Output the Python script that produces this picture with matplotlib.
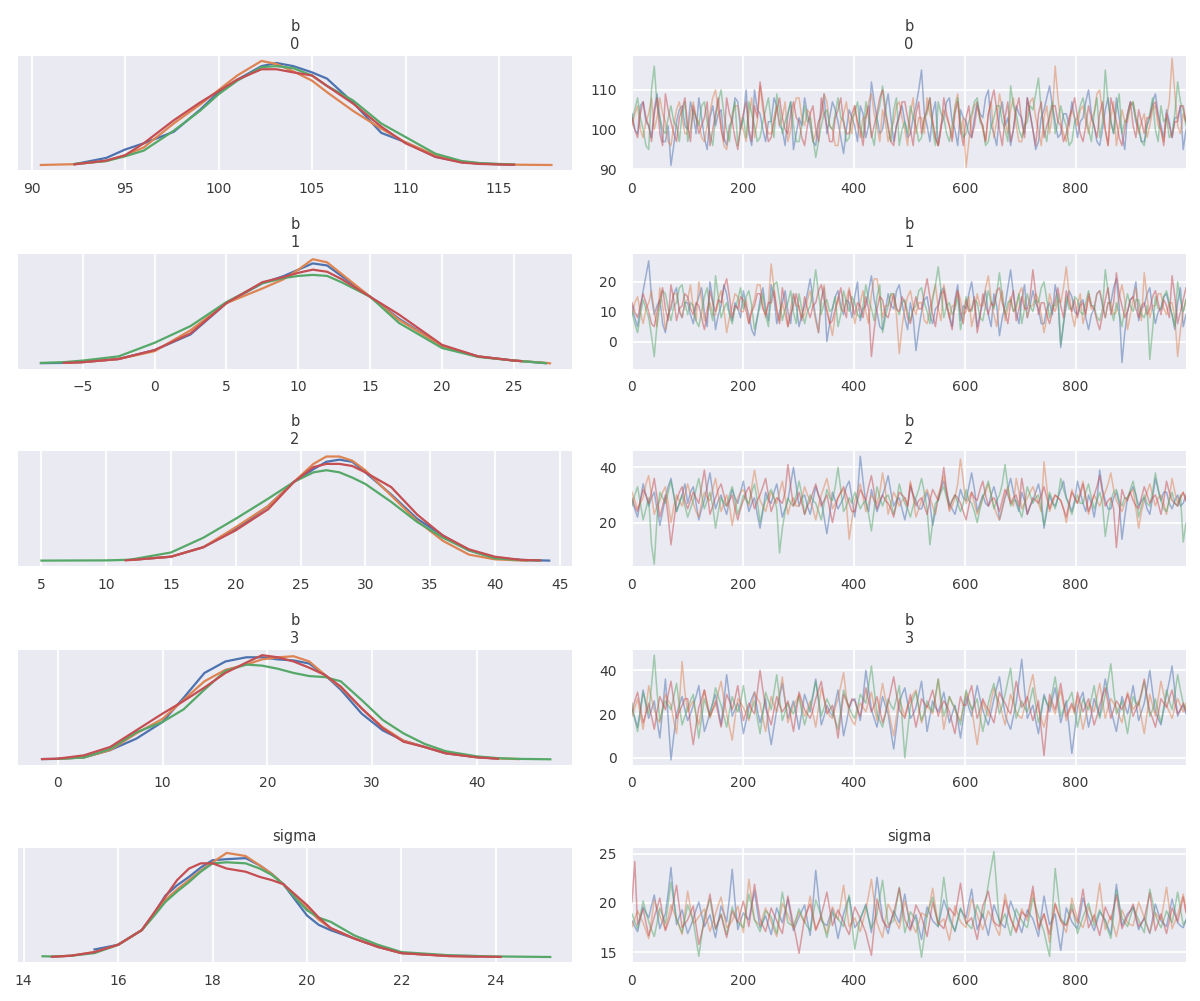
import numpy as np
import matplotlib
matplotlib.use("Agg")
import matplotlib.pyplot as plt

# --- data (4 chains: blue, orange, green, red) ---
var_titles = ["b\n0", "b\n1", "b\n2", "b\n3", "sigma"]
chain_colors = ["#4c72b0", "#dd8452", "#55a868", "#c44e52"]
nan = None

# density curves, relative height (no y scale on the plot)
kde_x_b0 = [90.5, 92.3, 94, 95, 96, 97.6, 99, 100, 101, 102.3, 103.1, 104, 105, 105.8,
            107.2, 108.7, 110, 111.6, 113, 114, 115.8, 117.8]
kde_b0 = [
    [nan, .01, .07, .15, .21, .32, .53, .70, .82, .95, .98, .95, .89, .83, .60, .31, .22, .08, .03, .015, .004, nan],
    [.002, .01, .04, .095, .17, .40, .58, .72, .86, 1.0, .97, .90, .81, .70, .52, .35, .22, .095, .03, .015, .005, .002],
    [nan, .012, .04, .085, .14, .33, .52, .68, .81, .94, .95, .93, .86, .76, .62, .40, .27, .11, .04, .02, .006, nan],
    [nan, .008, .045, .095, .21, .43, .60, .71, .82, .92, .92, .89, .86, .76, .59, .37, .21, .08, .025, .012, .004, nan],
]
kde_x_b1 = [-7.9, -6.3, -5, -2.5, 0, 2.5, 5, 7.5, 9, 10, 11, 12, 13, 15, 17, 20, 22.5, 25, 25.5, 27.2, 27.5]
kde_b1 = [
    [.005, .008, .015, .045, .13, .28, .58, .77, .84, .90, .96, .94, .84, .64, .43, .17, .07, .03, .025, .005, nan],
    [nan, .008, .015, .045, .12, .32, .58, .72, .81, .90, 1.0, .97, .86, .64, .42, .17, .07, .03, .025, .008, .004],
    [.008, .015, .03, .07, .20, .36, .59, .77, .82, .84, .85, .84, .78, .64, .39, .15, .065, .03, .025, .006, nan],
    [nan, .008, .015, .045, .13, .29, .58, .78, .83, .87, .90, .88, .81, .64, .47, .18, .07, .03, .025, nan, nan],
]
kde_x_b2 = [5, 10, 11.5, 12, 15, 17.5, 20, 22.5, 24.5, 26, 27, 28, 29, 30, 32, 34, 36, 38, 40, 42,
            42.5, 43.5, 44.2]
kde_b2 = [
    [nan, nan, nan, .01, .04, .13, .30, .52, .75, .87, .94, .96, .94, .84, .63, .40, .24, .10, .03, .01, .008, .005, .003],
    [nan, nan, nan, .01, .04, .13, .32, .52, .75, .92, .99, .99, .95, .86, .62, .38, .19, .06, .015, .004, .003, nan, nan],
    [.003, .005, .01, .015, .08, .22, .40, .59, .75, .84, .86, .84, .79, .73, .56, .37, .22, .10, .025, .008, .006, .004, nan],
    [nan, nan, .005, .01, .04, .13, .29, .49, .75, .89, .92, .92, .90, .84, .70, .44, .24, .11, .04, .01, .008, .005, nan],
]
kde_x_b3 = [-1.5, 0, 2.5, 5, 7.5, 10, 12, 14, 16, 18, 19.5, 21, 22.5, 24, 25.5, 27, 29, 31, 33, 35,
            37, 40, 42, 44, 47]
kde_b3 = [
    [.004, .006, .02, .09, .20, .36, .59, .83, .94, .98, .98, .96, .95, .92, .81, .67, .44, .28, .18, .12, .06, .023, .008, nan, nan],
    [nan, .006, .02, .09, .25, .39, .57, .75, .86, .91, .96, .98, .99, .94, .81, .69, .49, .31, .18, .12, .06, .023, .01, .004, nan],
    [nan, .006, .02, .10, .26, .36, .48, .67, .85, .91, .90, .87, .83, .80, .79, .75, .57, .38, .25, .15, .08, .03, .013, .006, .002],
    [.004, .008, .04, .12, .28, .44, .56, .69, .83, .93, 1.0, .98, .94, .88, .81, .70, .49, .30, .17, .12, .06, .02, .008, nan, nan],
]
kde_x_sigma = [14.4, 14.6, 15, 15.5, 16, 16.5, 16.75, 17, 17.25, 17.5, 17.75, 18, 18.3, 18.7, 19,
               19.25, 19.5, 19.75, 20, 20.25, 20.5, 21, 21.5, 22, 23, 23.6, 24.1, 25.15]
kde_sigma = [
    [nan, nan, nan, .075, .12, .26, .41, .59, .69, .77, .86, .93, .94, .95, .88, .80, .70, .55, .40, .31,
     .26, .18, .10, .04, .015, .012, nan, nan],
    [nan, .005, .015, .05, .12, .26, .40, .55, .65, .74, .83, .91, 1.0, .97, .88, .80, .70, .58, .47, .36,
     .28, .18, .10, .04, .012, .008, nan, nan],
    [.01, .008, .015, .04, .12, .26, .39, .53, .63, .72, .82, .90, .91, .90, .85, .79, .70, .57, .45, .38,
     .34, .21, .12, .05, .02, .012, .008, .003],
    [nan, .005, .015, .05, .12, .26, .42, .58, .74, .85, .90, .90, .85, .82, .77, .74, .70, .60, .50, .38,
     .28, .18, .10, .04, .012, .006, .004, nan],
]

# traces, thinned: 200 values per chain over draws 0..999
trace_b0 = [
    [104, 100, 99, 106, 107, 102, 101, 98, 105, 109, 103, 97, 97, 101, 91, 96, 102, 105, 106, 101,
     100, 107, 104, 99, 108, 103, 98, 95, 103, 106, 101, 104, 105, 98, 96, 101, 102, 108, 107, 100,
     103, 110, 99, 96, 110, 105, 104, 100, 97, 102, 102, 108, 106, 101, 100, 96, 104, 107, 95, 99,
     103, 101, 108, 104, 101, 97, 96, 102, 104, 109, 99, 103, 107, 105, 102, 98, 94, 100, 105, 103,
     101, 97, 106, 104, 98, 101, 112, 107, 103, 99, 100, 105, 109, 103, 97, 101, 104, 106, 102, 98,
     99, 103, 106, 110, 115, 104, 101, 97, 104, 107, 96, 101, 103, 107, 108, 102, 100, 96, 105, 103,
     102, 99, 98, 103, 107, 104, 103, 108, 110, 101, 99, 96, 104, 107, 101, 103, 96, 100, 106, 104,
     103, 99, 108, 104, 100, 95, 97, 103, 105, 108, 111, 106, 102, 98, 99, 104, 104, 101, 107, 103,
     98, 102, 103, 107, 110, 104, 101, 97, 96, 100, 105, 108, 102, 99, 108, 103, 99, 95, 104, 107,
     106, 102, 100, 97, 97, 101, 103, 107, 109, 104, 101, 98, 105, 102, 98, 103, 103, 106, 95, 100],
    [101, 104, 106, 100, 98, 102, 104, 108, 100, 103, 108, 104, 102, 97, 96, 101, 105, 107, 103, 99,
     99, 104, 107, 103, 102, 98, 97, 101, 104, 108, 110, 105, 101, 96, 95, 100, 103, 106, 106, 102,
     100, 97, 104, 108, 98, 102, 111, 105, 102, 99, 99, 103, 106, 101, 103, 107, 97, 100, 105, 108,
     108, 103, 101, 105, 104, 97, 99, 102, 103, 109, 107, 101, 100, 96, 96, 102, 104, 107, 102, 99,
     106, 101, 98, 103, 103, 107, 109, 104, 101, 97, 105, 102, 97, 100, 102, 106, 107, 103, 100, 96,
     104, 108, 99, 103, 103, 99, 108, 104, 102, 98, 96, 101, 105, 103, 101, 98, 106, 109, 99, 103,
     90.5, 97, 103, 106, 107, 103, 100, 97, 104, 107, 98, 102, 109, 105, 102, 99, 105, 108, 101, 97,
     97, 101, 104, 107, 108, 103, 100, 96, 103, 106, 99, 104, 116, 108, 102, 99, 97, 101, 105, 103,
     101, 105, 106, 102, 99, 103, 104, 109, 110, 104, 100, 96, 103, 107, 96, 101, 105, 102, 102, 106,
     107, 103, 99, 102, 104, 98, 101, 105, 106, 101, 100, 97, 103, 107, 118, 109, 101, 99, 104, 102],
    [102, 105, 108, 103, 100, 96, 95, 110, 116, 106, 103, 100, 99, 103, 106, 102, 101, 97, 104, 107,
     97, 100, 105, 103, 101, 106, 107, 102, 99, 96, 103, 107, 110, 104, 100, 97, 104, 107, 96, 100,
     103, 98, 107, 104, 101, 97, 98, 102, 105, 108, 102, 98, 109, 105, 99, 102, 104, 107, 101, 97,
     97, 101, 106, 102, 103, 98, 93, 97, 101, 104, 105, 101, 100, 104, 108, 103, 102, 97, 98, 103,
     104, 107, 101, 98, 107, 103, 99, 96, 103, 106, 111, 106, 100, 97, 105, 108, 96, 100, 102, 99,
     106, 103, 101, 97, 98, 103, 104, 108, 100, 96, 107, 104, 103, 99, 97, 101, 105, 108, 102, 98,
     99, 102, 104, 107, 108, 102, 101, 96, 97, 101, 103, 106, 106, 102, 100, 97, 111, 106, 104, 100,
     98, 101, 102, 106, 105, 109, 113, 105, 100, 97, 104, 107, 99, 102, 106, 103, 101, 96, 97, 102,
     103, 106, 108, 104, 100, 97, 104, 108, 98, 102, 115, 107, 102, 99, 105, 109, 99, 102, 103, 106,
     107, 103, 101, 97, 96, 101, 104, 108, 100, 97, 106, 102, 103, 98, 99, 104, 112, 107, 105, 101],
    [103, 100, 98, 104, 107, 103, 101, 97, 104, 108, 99, 96, 109, 105, 102, 99, 97, 103, 105, 108,
     101, 97, 106, 103, 99, 101, 103, 107, 96, 100, 104, 108, 100, 97, 108, 104, 102, 98, 95, 101,
     104, 107, 100, 97, 106, 103, 112, 107, 101, 97, 98, 102, 105, 108, 103, 100, 99, 104, 107, 103,
     102, 98, 96, 101, 104, 106, 100, 97, 108, 104, 101, 97, 97, 103, 105, 108, 102, 99, 99, 104,
     106, 102, 100, 96, 103, 106, 98, 101, 104, 108, 110, 104, 101, 97, 96, 101, 103, 107, 107, 103,
     100, 96, 104, 107, 99, 103, 105, 108, 102, 98, 96, 100, 108, 104, 101, 97, 104, 107, 100, 96,
     103, 106, 98, 101, 106, 103, 101, 97, 104, 107, 110, 105, 100, 96, 103, 107, 97, 100, 105, 108,
     102, 98, 108, 104, 100, 96, 104, 107, 98, 101, 103, 106, 106, 102, 101, 97, 99, 103, 105, 108,
     103, 99, 97, 101, 106, 103, 101, 98, 104, 107, 100, 96, 108, 105, 102, 98, 96, 100, 104, 107,
     101, 98, 105, 102, 99, 103, 103, 106, 107, 103, 100, 96, 104, 101, 98, 102, 102, 106, 106, 102],
]
trace_b1 = [
    [12, 8, 5, 11, 17, 22, 27, 15, 9, 12, 14, 6, 3, 9, 11, 16, 18, 10, 8, 13,
     13, 9, 6, 12, 15, 18, 10, 5, 20, 14, 4, 9, 12, 19, 16, 10, 7, 13, 11, 8,
     17, 12, 9, 4, 2, 8, 14, 18, 11, 7, 19, 15, 6, 10, 13, 17, 10, 6, 16, 12,
     5, 9, 12, 16, 21, 14, 8, 3, 14, 18, 0, 6, 11, 15, 17, 12, 9, 14, 13, 8,
     15, 20, 7, 11, 12, 17, 22, 14, 10, 5, 4, 10, 16, 12, 11, 17, 19, 13, 8, 4,
     13, 8, -3, 4, 10, 14, 15, 9, 6, 11, 12, 17, 18, 12, 9, 5, 14, 19, 7, 12,
     11, 16, 20, 13, 5, 9, 13, 17, 9, 5, 16, 12, 2, 8, 12, 18, 24, 16, 10, 6,
     14, 19, 8, 12, 17, 13, 11, 6, 6, 11, 13, 9, 19, 14, -2, 6, 12, 17, 15, 10,
     9, 13, 14, 8, 4, 9, 11, 16, 17, 12, 8, 13, 13, 18, 21, 12, -7, 3, 10, 14,
     15, 20, 7, 11, 12, 16, 18, 11, 6, 10, 11, 15, 16, 12, 9, 4, 13, 18, 5, 9],
    [9, 13, 15, 10, 6, 11, 13, 17, 10, 5, 18, 12, 4, 9, 12, 16, 16, 11, 8, 13,
     14, 19, 11, 7, 20, 14, 7, 11, 13, 9, 9, 14, 17, 11, 3, 8, 12, 16, 15, 10,
     10, 14, 6, 11, 14, 19, 19, 12, 8, 13, 26, 18, 11, 7, 13, 9, 5, 11, 16, 12,
     12, 8, 9, 14, 17, 12, 7, 3, 14, 19, 11, 7, 2, 9, 15, 11, 10, 14, 18, 13,
     6, 10, 13, 17, 10, 6, 16, 21, 21, 15, 8, 12, 12, 16, 14, 9, -4, 5, 11, 15,
     17, 12, 9, 13, 13, 7, 6, 11, 15, 19, 11, 7, 19, 14, 8, 12, 12, 17, 14, 9,
     10, 15, 5, 9, 16, 12, 12, 18, 22, 14, 9, 5, 13, 17, 7, 11, 15, 10, 11, 16,
     18, 13, 8, 12, 12, 16, 14, 9, 3, 8, 16, 12, 10, 14, 13, 18, 25, 16, 9, 5,
     12, 16, 6, 10, 15, 11, 11, 16, 17, 13, 8, 13, 13, 9, 10, 15, 19, 14, 4, 9,
     14, 18, 11, 7, 23, 15, 8, 12, 12, 16, 16, 11, 9, 13, 13, 8, -5, 4, 10, 14],
    [10, 6, 3, 9, 14, 11, 8, 2, -5, 6, 12, 17, 16, 11, 7, 12, 13, 18, 19, 13,
     9, 13, 12, 7, 5, 10, 15, 18, 11, 7, 22, 15, 8, 11, 13, 9, 6, 11, 14, 18,
     11, 15, 17, 12, 4, 8, 12, 16, 9, 5, 15, 19, 20, 14, 7, 11, 13, 17, 10, 6,
     16, 11, 6, 10, 12, 17, 24, 16, 9, 13, 14, 10, 11, 15, 5, 9, 17, 13, 10, 15,
     13, 9, 8, 12, 19, 14, 11, 7, 15, 19, 3, 8, 12, 16, 16, 11, 9, 13, 14, 10,
     7, 11, 12, 17, 18, 13, 10, 6, 14, 19, 25, 17, 8, 12, 13, 9, 11, 15, 4, 9,
     15, 11, 10, 14, 13, 8, 7, 12, 17, 13, 11, 16, 23, 15, 9, 13, 14, 10, 12, 16,
     6, 11, 16, 12, 10, 14, 13, 18, 20, 14, 8, 12, 12, 16, -1, 6, 15, 11, 11, 15,
     14, 10, 9, 13, 17, 12, 12, 8, 7, 11, 24, 17, 11, 7, 13, 9, 5, 11, 16, 12,
     10, 14, 14, 9, 8, 12, -6, 4, 15, 11, 11, 15, 17, 13, 9, 5, 20, 14, 10, 14],
    [13, 10, 8, 12, 16, 13, 10, 6, 5, 10, 14, 18, 11, 7, 19, 14, 7, 11, 12, 16,
     15, 11, 9, 13, 12, 8, 4, 9, 17, 13, 10, 14, 13, 18, 21, 15, 8, 12, 11, 15,
     14, 10, 6, 10, 12, 16, 16, 11, 9, 13, 13, 17, 10, 6, 18, 13, 5, 9, 12, 16,
     11, 7, 15, 11, 8, 12, 13, 17, 19, 14, 10, 6, 7, 11, 14, 18, 12, 8, 17, 13,
     9, 13, 12, 8, 15, 11, -5, 4, 11, 15, 14, 9, 8, 12, 16, 11, 10, 15, 13, 8,
     6, 11, 15, 11, 11, 16, 21, 15, 9, 5, 12, 16, 17, 12, 8, 4, 13, 17, 10, 6,
     14, 10, 11, 15, 3, 8, 16, 12, 9, 13, 12, 17, 18, 13, 10, 6, 13, 17, 7, 11,
     15, 11, 11, 15, 24, 16, 9, 13, 13, 9, 6, 10, 14, 18, 12, 8, 17, 13, 10, 14,
     8, 12, 13, 9, 16, 12, 11, 7, 4, 9, 14, 18, 9, 13, 23, 16, 12, 8, 10, 14,
     15, 11, 8, 12, 13, 9, 11, 15, 17, 13, 9, 14, 12, 8, 22, 15, 6, 10, 14, 18],
]
trace_b2 = [
    [28, 25, 22, 28, 34, 30, 26, 29, 31, 25, 19, 24, 29, 33, 36, 30, 24, 27, 30, 34,
     27, 31, 33, 27, 21, 25, 28, 33, 38, 31, 25, 28, 30, 26, 23, 28, 32, 29, 27, 31,
     35, 29, 24, 27, 29, 23, 18, 24, 31, 28, 27, 31, 34, 28, 22, 25, 28, 34, 40, 33,
     26, 29, 30, 26, 23, 28, 33, 30, 28, 22, 16, 23, 31, 28, 25, 27, 29, 33, 35, 29,
     22, 30, 44, 35, 27, 24, 32, 28, 24, 27, 30, 33, 37, 31, 26, 28, 29, 25, 21, 26,
     33, 30, 28, 25, 25, 28, 31, 27, 19, 24, 29, 32, 35, 31, 27, 25, 23, 27, 32, 29,
     28, 33, 38, 32, 24, 27, 30, 27, 26, 30, 33, 29, 21, 25, 29, 32, 36, 31, 27, 24,
     31, 28, 23, 26, 28, 31, 34, 29, 18, 24, 30, 27, 26, 29, 32, 35, 29, 27, 24, 28,
     35, 31, 27, 24, 30, 27, 22, 28, 39, 32, 28, 25, 25, 29, 31, 27, 14, 22, 29, 31,
     33, 30, 26, 28, 29, 25, 23, 29, 36, 32, 28, 31, 31, 27, 25, 28, 30, 26, 27, 30],
    [31, 28, 25, 27, 29, 34, 37, 30, 23, 26, 28, 31, 33, 27, 20, 26, 30, 28, 26, 30,
     34, 30, 27, 24, 22, 27, 31, 29, 28, 32, 36, 30, 24, 27, 30, 26, 19, 25, 29, 31,
     32, 29, 26, 33, 39, 33, 28, 26, 24, 28, 31, 29, 27, 31, 35, 29, 23, 27, 29, 26,
     26, 29, 33, 30, 28, 25, 21, 26, 30, 33, 36, 31, 25, 27, 29, 31, 32, 27, 14, 21,
     28, 31, 34, 29, 24, 27, 30, 28, 27, 31, 38, 32, 23, 27, 31, 29, 26, 28, 29, 26,
     35, 29, 22, 25, 28, 30, 32, 29, 26, 23, 30, 33, 37, 30, 24, 26, 29, 34, 43, 35,
     27, 29, 31, 27, 23, 26, 29, 31, 34, 30, 26, 23, 21, 25, 30, 33, 28, 26, 36, 31,
     25, 27, 29, 31, 33, 30, 27, 24, 42, 33, 24, 27, 30, 29, 28, 25, 20, 26, 32, 29,
     27, 31, 35, 29, 23, 27, 30, 28, 26, 29, 31, 34, 38, 32, 28, 26, 24, 27, 29, 31,
     32, 25, 18, 24, 28, 31, 34, 30, 26, 29, 30, 27, 23, 29, 36, 31, 27, 29, 31, 28],
    [26, 30, 33, 27, 21, 25, 29, 12, 5, 22, 31, 29, 27, 31, 35, 30, 24, 27, 30, 26,
     22, 25, 28, 32, 36, 30, 25, 28, 31, 26, 18, 24, 29, 27, 26, 30, 33, 28, 23, 26,
     30, 28, 27, 31, 34, 28, 20, 25, 28, 30, 32, 29, 25, 9, 18, 24, 29, 27, 26, 30,
     35, 30, 23, 27, 30, 28, 27, 24, 21, 27, 32, 29, 28, 33, 40, 32, 24, 26, 29, 27,
     31, 28, 25, 27, 28, 23, 17, 25, 33, 29, 26, 29, 30, 27, 23, 27, 34, 30, 27, 25,
     22, 26, 29, 32, 36, 31, 25, 12, 20, 27, 28, 31, 33, 29, 26, 28, 30, 27, 24, 27,
     32, 28, 27, 24, 20, 25, 29, 32, 35, 30, 25, 28, 30, 34, 41, 33, 26, 28, 28, 25,
     22, 27, 33, 30, 27, 29, 30, 25, 19, 25, 31, 28, 25, 29, 36, 32, 29, 26, 23, 27,
     30, 27, 27, 31, 34, 29, 25, 28, 31, 27, 15, 22, 28, 31, 32, 28, 26, 29, 29, 32,
     35, 30, 22, 26, 30, 27, 26, 31, 38, 32, 28, 25, 24, 28, 31, 27, 26, 30, 13, 20],
    [29, 26, 24, 28, 32, 30, 27, 31, 36, 29, 22, 26, 30, 22, 12, 20, 28, 31, 33, 28,
     25, 28, 31, 29, 27, 33, 39, 31, 23, 26, 29, 32, 34, 30, 26, 28, 30, 25, 21, 25,
     28, 31, 33, 29, 25, 28, 30, 33, 36, 30, 24, 27, 29, 28, 27, 31, 41, 33, 26, 28,
     31, 27, 23, 26, 28, 31, 34, 30, 26, 28, 30, 25, 20, 25, 29, 31, 33, 30, 27, 24,
     24, 28, 32, 30, 28, 33, 37, 31, 25, 28, 30, 28, 27, 25, 22, 27, 31, 30, 29, 26,
     34, 30, 26, 28, 29, 26, 23, 28, 32, 30, 28, 33, 40, 32, 25, 28, 30, 29, 27, 24,
     21, 26, 31, 29, 28, 32, 35, 30, 26, 28, 29, 27, 24, 28, 32, 30, 27, 29, 30, 26,
     36, 30, 23, 26, 29, 28, 27, 30, 33, 29, 25, 28, 30, 29, 28, 25, 22, 27, 31, 29,
     27, 30, 34, 29, 24, 27, 30, 33, 37, 31, 26, 28, 29, 25, 11, 22, 32, 29, 28, 31,
     28, 26, 25, 29, 33, 30, 27, 29, 30, 27, 23, 28, 35, 31, 28, 27, 26, 29, 31, 28],
]
trace_b3 = [
    [22, 18, 14, 22, 31, 24, 18, 22, 26, 17, 9, 22, 36, 18, -1, 10, 20, 24, 28, 22,
     17, 20, 24, 28, 33, 22, 12, 16, 21, 25, 29, 22, 15, 26, 38, 28, 19, 22, 25, 20,
     11, 17, 23, 27, 30, 22, 16, 21, 27, 14, 6, 14, 22, 28, 34, 26, 18, 22, 26, 20,
     13, 21, 29, 25, 21, 28, 36, 26, 15, 19, 24, 21, 19, 25, 31, 21, 10, 16, 23, 26,
     27, 22, 17, 28, 40, 31, 22, 18, 14, 21, 28, 24, 20, 12, 4, 14, 25, 29, 32, 25,
     18, 20, 23, 29, 35, 24, 12, 19, 26, 23, 21, 25, 30, 23, 16, 20, 24, 17, 9, 18,
     28, 23, 19, 26, 33, 27, 22, 18, 15, 21, 27, 32, 37, 28, 20, 16, 13, 19, 25, 35,
     45, 31, 18, 21, 24, 17, 11, 20, 29, 25, 21, 27, 32, 24, 16, 21, 26, 14, 2, 12,
     23, 27, 30, 22, 14, 20, 27, 23, 19, 28, 36, 29, 22, 17, 12, 20, 28, 24, 20, 26,
     33, 25, 17, 21, 25, 32, 40, 30, 21, 18, 15, 22, 29, 35, 42, 30, 19, 22, 24, 20],
    [19, 23, 27, 20, 13, 22, 33, 27, 22, 18, 16, 23, 29, 26, 24, 17, 11, 25, 44, 30,
     21, 24, 26, 20, 15, 23, 31, 24, 18, 22, 24, 30, 35, 27, 20, 14, 8, 18, 27, 25,
     23, 20, 17, 24, 30, 27, 25, 18, 12, 21, 28, 24, 21, 29, 37, 26, 16, 20, 24, 26,
     29, 23, 19, 22, 26, 20, 14, 23, 32, 27, 22, 19, 18, 23, 27, 33, 39, 28, 20, 17,
     15, 21, 25, 23, 21, 26, 30, 23, 17, 26, 34, 27, 23, 16, 10, 19, 27, 23, 19, 24,
     26, 29, 31, 23, 16, 20, 24, 22, 20, 28, 36, 24, 13, 20, 28, 25, 22, 19, 17, 23,
     30, 26, 23, 14, 6, 16, 26, 22, 19, 26, 32, 28, 25, 20, 15, 22, 29, 25, 21, 19,
     18, 23, 27, 33, 38, 29, 22, 18, 14, 20, 26, 23, 20, 26, 31, 24, 17, 21, 24, 20,
     28, 20, 13, 19, 25, 23, 21, 28, 34, 26, 18, 23, 27, 25, 23, 19, 16, 23, 30, 26,
     22, 24, 26, 18, 11, 20, 29, 24, 19, 27, 35, 29, 24, 21, 18, 23, 27, 24, 21, 25],
    [25, 18, 12, 21, 30, 25, 20, 33, 47, 30, 17, 22, 26, 24, 22, 28, 34, 24, 15, 19,
     23, 26, 29, 19, 9, 18, 27, 23, 19, 25, 32, 28, 24, 19, 14, 21, 28, 24, 21, 25,
     33, 25, 18, 22, 26, 18, 11, 20, 30, 26, 22, 30, 38, 27, 17, 21, 25, 22, 20, 24,
     28, 21, 15, 20, 24, 29, 35, 27, 19, 23, 27, 24, 21, 17, 13, 22, 31, 27, 23, 20,
     18, 23, 29, 27, 25, 33, 42, 31, 20, 17, 14, 20, 27, 24, 22, 27, 33, 18, 0, 12,
     24, 27, 30, 23, 17, 21, 26, 23, 21, 28, 36, 27, 19, 23, 28, 25, 23, 19, 15, 23,
     31, 26, 22, 24, 27, 19, 12, 18, 25, 30, 34, 27, 20, 24, 29, 35, 41, 29, 18, 22,
     26, 23, 21, 26, 32, 24, 16, 22, 28, 25, 23, 30, 37, 28, 19, 22, 25, 27, 30, 22,
     14, 20, 27, 24, 22, 27, 33, 25, 18, 23, 29, 35, 43, 31, 20, 23, 26, 18, 11, 20,
     28, 25, 24, 29, 35, 27, 19, 22, 27, 21, 16, 23, 31, 26, 22, 29, 38, 31, 25, 22],
    [21, 26, 30, 23, 16, 20, 25, 19, 13, 21, 28, 25, 22, 29, 35, 26, 18, 21, 24, 27,
     27, 15, 6, 15, 23, 27, 31, 25, 19, 22, 26, 20, 14, 22, 29, 26, 22, 27, 33, 24,
     17, 21, 25, 22, 20, 30, 40, 31, 23, 19, 15, 22, 28, 24, 21, 23, 26, 19, 12, 21,
     30, 26, 22, 20, 18, 22, 27, 31, 35, 27, 20, 22, 24, 17, 9, 19, 29, 26, 23, 27,
     26, 22, 19, 25, 32, 26, 21, 24, 28, 22, 16, 20, 25, 31, 37, 29, 22, 20, 18, 23,
     29, 21, 14, 20, 27, 25, 23, 27, 31, 25, 19, 23, 26, 24, 21, 16, 11, 20, 28, 24,
     24, 29, 33, 25, 18, 22, 27, 24, 22, 19, 16, 23, 30, 27, 25, 22, 20, 27, 35, 29,
     23, 25, 28, 22, 17, 21, 26, 13, 1, 15, 29, 25, 22, 28, 34, 26, 19, 22, 25, 21,
     30, 25, 21, 24, 27, 21, 15, 19, 24, 28, 32, 25, 18, 22, 26, 24, 22, 25, 29, 24,
     19, 22, 25, 30, 36, 28, 21, 18, 14, 20, 27, 25, 23, 27, 31, 25, 20, 22, 25, 21],
]
trace_sigma = [
    [18.2, 17.6, 17.1, 18.4, 19.6, 19.0, 18.5, 19.7, 20.8, 19.1, 17.4, 18.2, 18.9, 21.0, 23.6, 20.4, 17.8, 18.6, 19.3, 18.0,
     16.9, 17.6, 18.4, 19.3, 20.1, 18.8, 17.6, 18.2, 18.8, 17.6, 16.5, 18.1, 19.7, 18.9, 18.1, 20.5, 23.4, 20.1, 17.3, 18.2,
     19.0, 18.6, 18.3, 19.8, 21.2, 19.3, 17.5, 18.1, 18.7, 17.7, 16.8, 18.2, 19.5, 18.7, 18.0, 19.2, 20.4, 18.8, 17.2, 17.9,
     18.6, 19.2, 19.8, 18.2, 16.7, 19.9, 23.3, 20.6, 18.2, 17.9, 17.7, 18.6, 19.4, 17.9, 16.4, 17.7, 18.9, 19.8, 20.6, 19.0,
     17.5, 17.9, 18.3, 19.1, 19.9, 18.4, 17.0, 19.8, 22.6, 20.5, 18.5, 17.7, 16.9, 18.1, 19.2, 18.6, 18.0, 19.5, 20.9, 19.1,
     17.4, 18.1, 18.8, 17.5, 16.3, 18.0, 19.6, 18.9, 18.2, 17.9, 17.6, 19.0, 20.3, 19.5, 18.7, 17.9, 17.1, 18.3, 19.4, 18.9,
     18.5, 20.0, 21.4, 19.3, 17.3, 18.1, 18.9, 17.8, 16.7, 18.3, 19.8, 19.0, 18.2, 17.8, 17.5, 18.9, 20.2, 19.4, 18.6, 17.8,
     17.0, 18.2, 19.3, 18.8, 18.4, 17.5, 16.6, 18.7, 20.7, 19.2, 17.8, 18.3, 18.9, 17.0, 15.2, 17.4, 19.5, 18.8, 18.1, 17.7,
     17.4, 18.9, 20.5, 19.5, 18.6, 17.9, 17.2, 18.1, 19.1, 18.7, 18.3, 17.5, 16.8, 19.4, 21.9, 19.8, 17.7, 18.3, 18.9, 19.2,
     19.6, 18.4, 17.3, 17.9, 18.5, 17.7, 16.9, 18.4, 19.9, 19.0, 18.2, 17.9, 17.6, 19.0, 20.4, 19.2, 18.0, 17.7, 17.5, 18.3],
    [17.6, 18.4, 19.2, 18.6, 18.0, 17.2, 16.4, 18.3, 20.3, 19.5, 18.7, 18.0, 17.3, 18.5, 19.8, 19.1, 18.4, 17.6, 16.8, 19.0,
     21.2, 19.5, 17.9, 18.2, 18.6, 19.0, 19.4, 18.2, 17.1, 18.0, 18.9, 19.8, 20.6, 19.0, 17.5, 17.8, 18.2, 18.9, 19.7, 18.3,
     17.0, 19.7, 22.4, 20.3, 18.3, 18.0, 17.7, 18.6, 19.5, 18.8, 18.1, 17.3, 16.6, 18.3, 20.0, 19.4, 18.8, 18.1, 17.4, 18.2,
     19.1, 18.5, 18.0, 19.3, 20.7, 18.9, 17.2, 17.9, 18.6, 17.7, 16.9, 18.2, 19.6, 18.9, 18.3, 20.0, 21.8, 19.7, 17.6, 18.0,
     18.5, 17.8, 17.1, 18.2, 19.3, 20.8, 22.4, 20.2, 18.0, 17.2, 16.5, 18.2, 19.9, 19.3, 18.7, 18.0, 17.4, 18.8, 20.2, 19.2,
     18.2, 17.6, 17.0, 18.0, 19.0, 18.8, 18.6, 20.0, 21.5, 19.6, 17.8, 18.1, 18.4, 17.3, 16.2, 17.9, 19.7, 18.9, 18.1, 17.8,
     17.5, 19.0, 20.4, 19.6, 18.8, 18.0, 17.3, 18.2, 19.2, 18.6, 18.0, 17.3, 16.7, 18.8, 20.9, 19.7, 18.5, 17.8, 17.2, 18.3,
     19.4, 18.8, 18.2, 19.6, 21.1, 19.3, 17.6, 18.2, 18.9, 17.7, 16.0, 17.9, 19.8, 19.0, 18.3, 17.6, 17.0, 18.7, 20.5, 19.4,
     18.4, 17.9, 17.5, 18.5, 19.6, 18.8, 18.1, 20.0, 22.0, 19.6, 17.3, 18.0, 18.7, 17.6, 16.6, 18.0, 19.3, 18.6, 18.0, 17.8,
     17.7, 18.9, 20.1, 19.3, 18.5, 17.7, 17.0, 18.0, 19.0, 18.6, 18.3, 19.9, 21.6, 19.5, 17.4, 18.1, 18.8, 19.8, 20.9, 19.2],
    [18.9, 18.1, 17.4, 18.8, 20.2, 19.1, 18.1, 17.3, 16.6, 18.0, 19.5, 18.7, 17.9, 20.0, 22.1, 20.2, 18.4, 17.7, 17.0, 18.4,
     19.8, 19.0, 18.2, 16.4, 14.6, 16.6, 18.7, 19.5, 20.4, 18.8, 17.3, 18.1, 18.9, 17.8, 16.8, 18.2, 19.6, 18.8, 18.0, 17.8,
     17.5, 19.2, 20.9, 19.6, 18.3, 17.7, 17.1, 18.1, 19.2, 18.9, 18.6, 17.7, 16.9, 19.0, 21.1, 19.5, 18.0, 17.8, 17.7, 18.5,
     19.4, 18.7, 18.1, 17.6, 17.2, 18.7, 20.3, 19.5, 18.7, 17.6, 16.5, 17.8, 19.0, 18.7, 18.4, 18.0, 17.6, 19.2, 20.8, 18.0,
     15.3, 16.9, 18.5, 19.1, 19.7, 18.5, 17.4, 18.1, 18.9, 20.6, 22.3, 20.0, 17.8, 18.0, 18.2, 19.9, 21.6, 19.3, 17.0, 18.0,
     19.1, 18.7, 18.4, 16.4, 14.5, 16.6, 18.8, 19.7, 20.6, 19.1, 17.6, 20.1, 22.6, 20.4, 18.3, 17.7, 17.2, 18.3, 19.5, 18.7,
     18.0, 17.7, 17.4, 18.6, 19.8, 19.1, 18.5, 20.2, 21.9, 23.6, 25.2, 21.5, 17.8, 18.3, 18.9, 17.8, 16.7, 18.0, 19.4, 18.8,
     18.2, 17.8, 17.5, 19.0, 20.5, 19.6, 18.7, 17.9, 17.1, 15.8, 14.6, 19.0, 23.5, 20.9, 18.4, 18.1, 17.8, 18.8, 19.9, 18.4,
     16.9, 17.7, 18.6, 19.3, 20.0, 18.8, 17.7, 18.5, 19.3, 18.7, 18.1, 17.2, 16.4, 18.8, 21.3, 19.9, 18.5, 18.0, 17.6, 18.6,
     19.6, 18.9, 18.3, 17.6, 17.0, 19.2, 21.4, 20.1, 18.8, 18.1, 17.5, 18.3, 19.2, 18.6, 18.0, 19.5, 21.1, 19.4, 17.8, 18.2],
    [20.1, 24.2, 17.8, 18.6, 19.4, 18.0, 16.7, 17.6, 18.6, 19.5, 20.5, 18.8, 17.2, 18.0, 18.9, 20.3, 21.8, 19.6, 17.5, 17.9,
     18.3, 19.0, 19.7, 17.7, 15.8, 16.9, 18.1, 19.5, 20.9, 19.1, 17.4, 18.1, 18.8, 17.6, 16.5, 17.8, 19.2, 18.6, 18.0, 19.1,
     20.2, 18.9, 17.6, 19.7, 21.9, 20.1, 18.4, 17.7, 17.1, 18.3, 19.5, 18.8, 18.2, 17.5, 16.9, 18.8, 20.7, 19.2, 17.8, 16.4,
     14.9, 16.7, 18.5, 19.2, 19.9, 18.6, 17.3, 18.0, 18.8, 19.9, 21.1, 19.4, 17.7, 18.5, 19.3, 18.7, 18.1, 17.4, 16.8, 18.2,
     19.6, 19.0, 18.4, 17.7, 17.0, 15.8, 14.7, 17.5, 20.4, 19.3, 18.2, 17.8, 17.5, 18.2, 19.0, 20.2, 21.5, 19.9, 18.3, 17.7,
     17.2, 18.5, 19.8, 19.2, 18.6, 17.6, 16.6, 18.3, 20.1, 19.0, 18.0, 17.7, 17.4, 18.4, 19.5, 19.1, 18.7, 20.3, 22.0, 19.9,
     17.9, 18.2, 18.5, 17.4, 16.3, 18.0, 19.7, 20.4, 21.2, 19.6, 18.1, 17.8, 17.6, 18.9, 20.3, 19.3, 18.4, 17.7, 17.0, 18.0,
     19.1, 18.8, 18.6, 20.1, 21.7, 19.5, 17.3, 18.1, 18.9, 17.8, 16.8, 18.4, 20.0, 19.1, 18.2, 17.9, 17.7, 18.5, 19.4, 18.7,
     18.0, 19.7, 21.4, 19.4, 17.5, 18.1, 18.8, 17.7, 16.7, 18.1, 19.6, 18.9, 18.3, 19.5, 20.8, 19.1, 17.4, 18.0, 18.6, 19.2,
     19.9, 18.7, 17.6, 18.0, 18.4, 19.7, 21.0, 19.1, 17.2, 18.0, 18.9, 17.9, 16.9, 18.2, 19.5, 18.8, 18.1, 19.3, 20.6, 19.0],
]

# axis limits and tick values as shown
kde_xlims = [(89.25, 118.9), (-9.53, 29.03), (3.15, 45.96), (-3.84, 49.07), (13.87, 25.61)]
kde_xticks = [[90, 95, 100, 105, 110, 115], [-5, 0, 5, 10, 15, 20, 25],
              [5, 10, 15, 20, 25, 30, 35, 40, 45], [0, 10, 20, 30, 40], [14, 16, 18, 20, 22, 24]]
trace_ylims = [(89.8, 118.6), (-9.0, 29.3), (4.4, 45.8), (-3.1, 49.3), (14.0, 25.6)]
trace_yticks = [[90, 100, 110], [0, 10, 20], [20, 40], [0, 20, 40], [15, 20, 25]]
trace_xticks = [0, 200, 400, 600, 800]

kde_grids = [kde_x_b0, kde_x_b1, kde_x_b2, kde_x_b3, kde_x_sigma]
kde_curves = [kde_b0, kde_b1, kde_b2, kde_b3, kde_sigma]
traces = [trace_b0, trace_b1, trace_b2, trace_b3, trace_sigma]

# --- layout (pixel positions of the original 1200x1001 figure) ---
W, H = 1200, 1001
row_tops = [55.7, 254, 451.3, 650, 847.7]
row_h = 114.5
left_span = (17.5, 572)
right_span = (632, 1186)
text_color = "#3a3a3a"

fig = plt.figure(figsize=(12, 10.01), dpi=100)


def make_axes(span, top):
    x0, x1 = span
    ax = fig.add_axes([x0 / W, 1 - (top + row_h) / H, (x1 - x0) / W, row_h / H])
    ax.set_facecolor("#eaeaf2")
    for s in ax.spines.values():
        s.set_visible(False)
    ax.grid(True, color="white", linewidth=1.3)
    ax.set_axisbelow(True)
    ax.tick_params(length=0, labelsize=10, colors=text_color)
    ax.tick_params(axis="x", pad=8.5)
    ax.tick_params(axis="y", pad=11)
    return ax


for i in range(5):
    # density panel
    ax = make_axes(left_span, row_tops[i])
    xg = np.array(kde_grids[i], dtype=float)
    for c, curve in enumerate(kde_curves[i]):
        yv = np.array(curve, dtype=float)
        ok = ~np.isnan(yv)
        ax.plot(xg[ok], yv[ok], color=chain_colors[c], linewidth=1.6)
    ax.set_xlim(kde_xlims[i])
    ax.set_xticks(kde_xticks[i])
    ax.set_yticks([])
    ax.set_title(var_titles[i], fontsize=10.5, color=text_color, pad=5, linespacing=1.25)

    # trace panel
    ax = make_axes(right_span, row_tops[i])
    for c, chain in enumerate(traces[i]):
        draws = np.linspace(0, 999, len(chain))
        ax.plot(draws, chain, color=chain_colors[c], alpha=0.5, linewidth=1.1)
    ax.set_xlim(0, 999)
    ax.set_ylim(trace_ylims[i])
    ax.set_xticks(trace_xticks)
    ax.set_yticks(trace_yticks[i])
    ax.set_title(var_titles[i], fontsize=10.5, color=text_color, pad=5, linespacing=1.25)

fig.savefig("out.png", dpi=100)
